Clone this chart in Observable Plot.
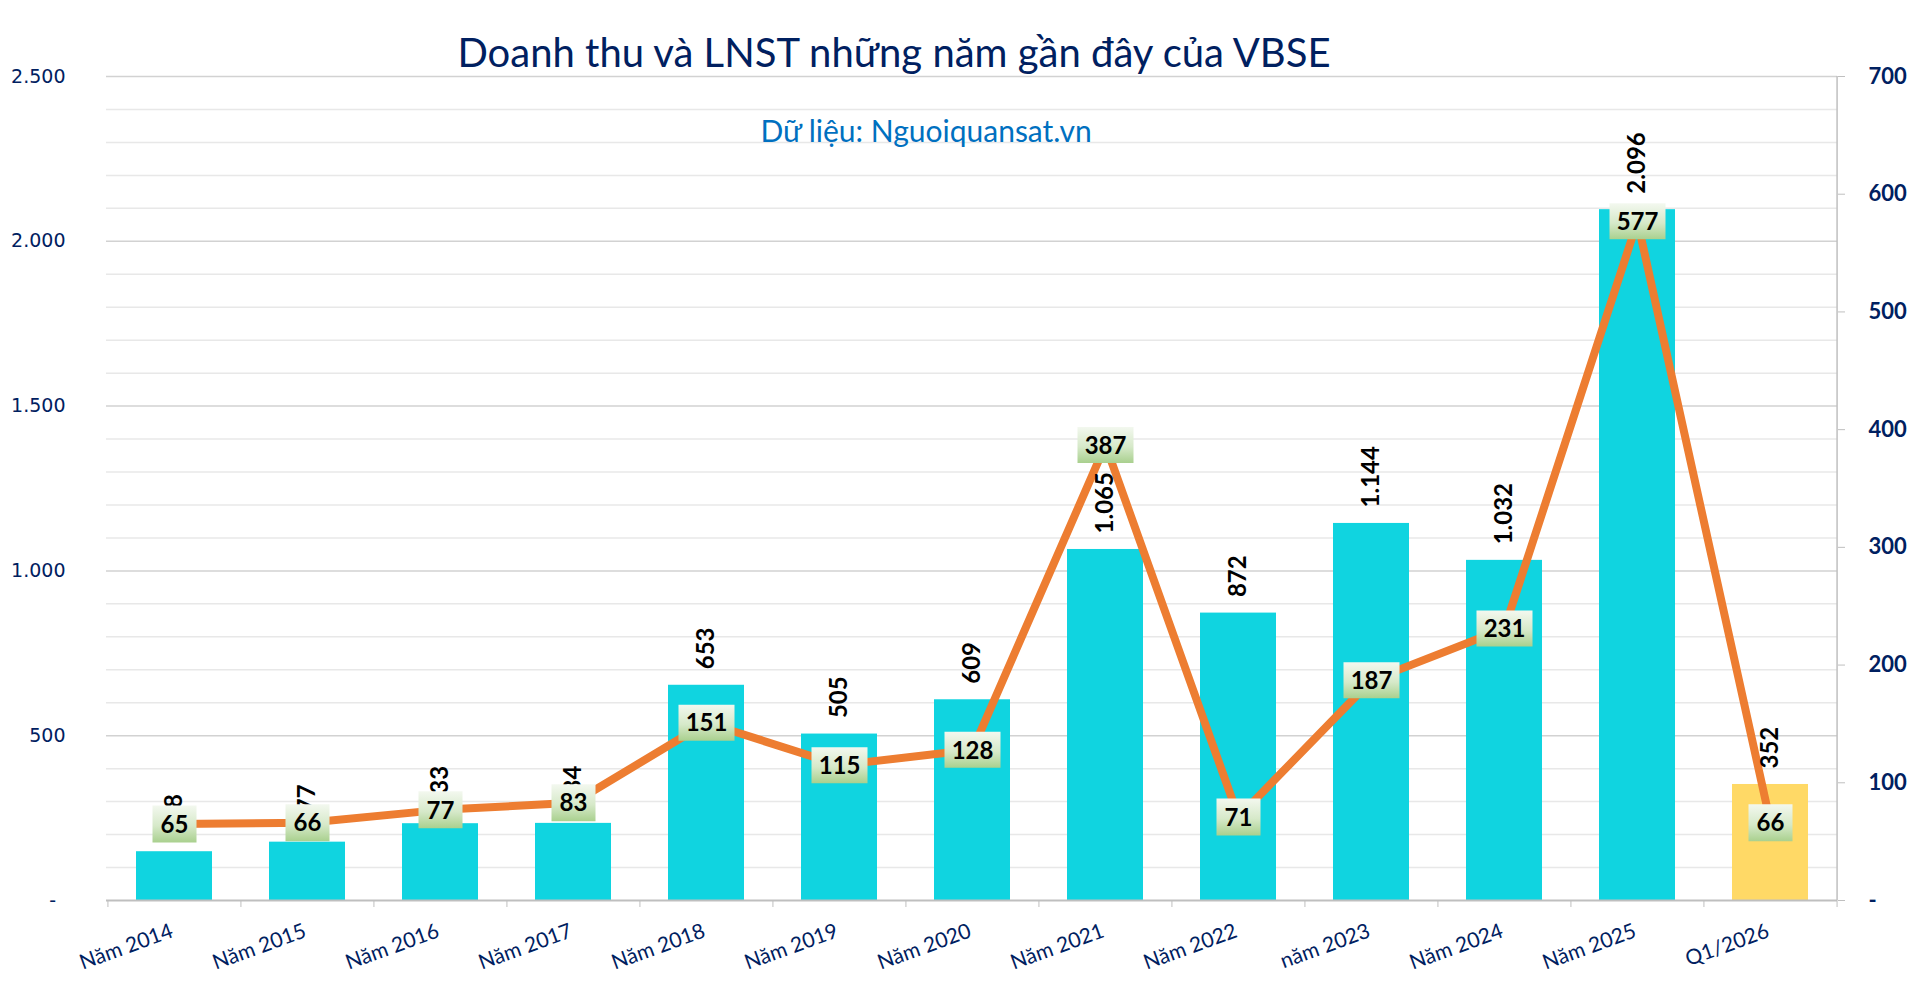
<!DOCTYPE html>
<html>
<head>
<meta charset="utf-8">
<script src="https://cdn.jsdelivr.net/npm/d3@7"></script>
<script src="https://cdn.jsdelivr.net/npm/@observablehq/plot@0.6"></script>
<style>
  html, body { margin: 0; padding: 0; background: #fff; }
  #wrap { position: relative; width: 1920px; height: 982px; overflow: hidden; }
  #wrap svg { position: absolute; left: 0; top: 0; }
  .title { position: absolute; left: 894px; top: 32px; transform: translateX(-50%); white-space: nowrap;
           font-family: Lato, sans-serif; font-size: 40px; line-height: 40px; color: #002060; z-index: 2; }
  .subtitle { position: absolute; left: 926px; top: 115px; transform: translateX(-50%); white-space: nowrap;
           font-family: Lato, sans-serif; font-size: 30px; line-height: 30px; color: #0070c0; z-index: 2; }
</style>
</head>
<body>
<div id="wrap">
  <div class="title">Doanh thu và LNST những năm gần đây của VBSE</div>
  <div class="subtitle">Dữ liệu: Nguoiquansat.vn</div>
</div>
<script>
// ---- Data ----
const categories = ["Năm 2014", "Năm 2015", "Năm 2016", "Năm 2017", "Năm 2018", "Năm 2019", "Năm 2020",
                    "Năm 2021", "Năm 2022", "năm 2023", "Năm 2024", "Năm 2025", "Q1/2026"];
const revenue = [148, 177, 233, 234, 653, 505, 609, 1065, 872, 1144, 1032, 2096, 352];   // Doanh thu (left axis)
const profit  = [65, 66, 77, 83, 151, 115, 128, 387, 71, 187, 231, 577, 66];            // LNST (right axis)
const leftTicks  = [0, 500, 1000, 1500, 2000, 2500];
const rightTicks = [0, 100, 200, 300, 400, 500, 600, 700];

// ---- Setup ----
const W = 1920, H = 982;
const mL = 106, mR = 83, mT = 76, mB = 82;
const leftMax = 2500, rightMax = 700;
const k = leftMax / rightMax; // right-axis to left-axis factor
const step = (W - mL - mR) / categories.length;

const data = categories.map((c, i) => ({cat: c, rev: revenue[i], lnst: profit[i],
  kind: c.startsWith("Q") ? "quarter" : "year"}));

const fmt = d3.formatLocale({decimal: ",", thousands: ".", grouping: [3], currency: ["", ""]}).format(",d");

const boxSym = (w, h) => ({draw(ctx) { ctx.rect(-w / 2, -h / 2, w, h); }});
const two = data.filter(d => String(d.lnst).length <= 2);
const three = data.filter(d => String(d.lnst).length >= 3);

const minor = d3.range(100, leftMax + 1, 100).filter(v => v % 500 !== 0);
const major = d3.range(500, leftMax + 1, 500);

const chart = Plot.plot({
  width: W, height: H,
  marginLeft: mL, marginRight: mR, marginTop: mT, marginBottom: mB,
  style: {fontFamily: "Lato, sans-serif", background: "transparent", overflow: "visible"},
  x: {domain: categories, paddingInner: 0.43, paddingOuter: 0.215, axis: null, label: null},
  y: {domain: [0, leftMax], axis: null, label: null},
  color: {domain: ["year", "quarter"], range: ["#10d4e0", "#ffd966"]},
  marks: [
    Plot.gridY(minor, {stroke: "#e8e8e8", strokeOpacity: 1, strokeWidth: 1.5}),
    Plot.gridY(major, {stroke: "#d2d2d2", strokeOpacity: 1, strokeWidth: 1.5}),
    Plot.barY(data, {x: "cat", y: "rev", fill: "kind"}),
    Plot.ruleY([0], {stroke: "#bfbfbf", strokeWidth: 2}),
    Plot.ruleX([categories[categories.length - 1]], {dx: step / 2, stroke: "#bfbfbf", strokeWidth: 1.5}),
    // bottom ticks at category boundaries
    Plot.axisX({ticks: categories, tickSize: 7, tickFormat: () => "", label: null, dx: -step / 2, stroke: "#bfbfbf"}),
    Plot.axisX({ticks: [categories[categories.length - 1]], tickSize: 7, tickFormat: () => "", label: null, dx: step / 2, stroke: "#bfbfbf"}),
    // x labels
    Plot.text(categories, {x: d => d, frameAnchor: "bottom", dy: 36, rotate: -20, textAnchor: "end",
      lineAnchor: "bottom", fontSize: 21, fill: "#002060"}),
    // left axis
    Plot.axisY({ticks: leftTicks, tickSize: 0, tickPadding: 41, fontSize: 19, fontFamily: "DejaVu Sans",
      fill: "#002060", label: null, tickFormat: d => d === 0 ? "-\u2002" : fmt(d)}),
    // right axis
    Plot.axisY({anchor: "right", ticks: rightTicks.map(v => v * k), tickSize: 7, tickPadding: 24,
      fontSize: 22, fontWeight: "bold", fill: "#002060", stroke: "#bfbfbf", label: null,
      tickFormat: d => { const v = Math.round(d / k); return v === 0 ? "-" : fmt(v); }}),
    // profit line
    Plot.lineY(data, {x: "cat", y: d => d.lnst * k, stroke: "#ed7d31", strokeWidth: 8, strokeLinejoin: "round"}),
    // revenue labels
    Plot.text(data, {x: "cat", y: "rev", text: d => fmt(d.rev), rotate: -90, textAnchor: "start",
      lineAnchor: "middle", dy: -16, fontSize: 24, fontWeight: "bold", fill: "#000"}),
    // profit label boxes
    Plot.dot(two, {x: "cat", y: d => d.lnst * k, symbol: boxSym(44, 37), fill: "url(#boxGrad)"}),
    Plot.dot(three, {x: "cat", y: d => d.lnst * k, symbol: boxSym(56, 36), fill: "url(#boxGrad)"}),
    Plot.text(data, {x: "cat", y: d => d.lnst * k, text: d => fmt(d.lnst), dy: 1,
      fontSize: 24, fontWeight: "bold", fill: "#000"})
  ]
});

const defs = d3.select(chart).insert("defs", ":first-child");
const g = defs.append("linearGradient").attr("id", "boxGrad").attr("x1", 0).attr("y1", 0).attr("x2", 0).attr("y2", 1);
g.append("stop").attr("offset", "0%").attr("stop-color", "#f3f8ef");
g.append("stop").attr("offset", "55%").attr("stop-color", "#d6e9c9");
g.append("stop").attr("offset", "100%").attr("stop-color", "#a9d08e");

document.getElementById("wrap").appendChild(chart);
</script>
</body>
</html>
